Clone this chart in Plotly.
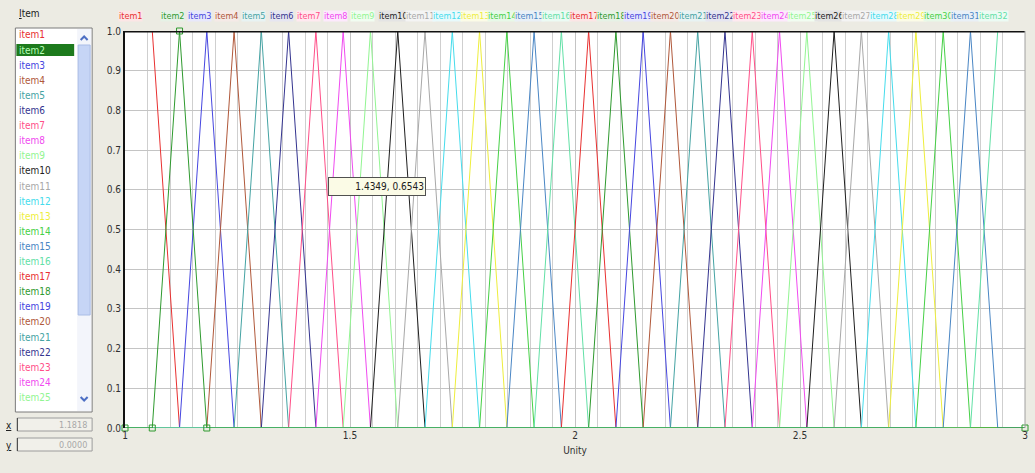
import plotly.graph_objects as go

# ---------------- data ----------------
knots = [1.0000, 1.0606, 1.1212, 1.1818, 1.2424, 1.3030, 1.3636, 1.4242, 1.4848,
         1.5455, 1.6061, 1.6667, 1.7273, 1.7879, 1.8485, 1.9091, 1.9697, 2.0303,
         2.0909, 2.1515, 2.2121, 2.2727, 2.3333, 2.3939, 2.4545, 2.5152, 2.5758,
         2.6364, 2.6970, 2.7576, 2.8182, 2.8788, 2.9394, 3.0000]
items = ["item%d" % i for i in range(1, 33)]
palette = ["#e83030", "#2f9a2f", "#4646e0", "#b0583a", "#45a3a3", "#34348f",
           "#ff4f88", "#f04af0", "#92f592", "#1e1e1e", "#a8a8a8", "#45dcec",
           "#eeee3c", "#46d046", "#4a86c4", "#62e0a6"]
item_colors = palette * 2
selected = "item2"
y_ticks = [0.0, 0.1, 0.2, 0.3, 0.4, 0.5, 0.6, 0.7, 0.8, 0.9, 1.0]
y_tick_text = ["0.0", "0.1", "0.2", "0.3", "0.4", "0.5", "0.6", "0.7", "0.8", "0.9", "1.0"]
x_ticks = [1, 1.5, 2, 2.5, 3]
x_tick_text = ["1", "1.5", "2", "2.5", "3"]
cursor_x, cursor_y = 1.4349, 0.6543
x_box_value = "1.1818"
y_box_value = "0.0000"
visible_list = items[:26]

FONT = "Liberation Sans Narrow, DejaVu Sans Condensed, Arial Narrow, sans-serif"
BG = "#ecebe3"


def px(x):
    return (x - 125) / 903.0


def py(y):
    return (428 - y) / 397.0


def tint(hexc, f=0.85):
    r, g, b = int(hexc[1:3], 16), int(hexc[3:5], 16), int(hexc[5:7], 16)
    r = int(r + (255 - r) * f); g = int(g + (255 - g) * f); b = int(b + (255 - b) * f)
    return "#%02x%02x%02x" % (r, g, b)


def membership(k):
    n = len(items)
    if k == 1:
        return [knots[0], knots[1], knots[2], knots[-1]], [1, 1, 0, 0]
    if k == n:
        return [knots[0], knots[n - 1], knots[n], knots[-1]], [0, 0, 1, 1]
    return [knots[0], knots[k - 1], knots[k], knots[k + 1], knots[-1]], [0, 0, 1, 0, 0]


fig = go.Figure()
order = [i for i in range(len(items)) if items[i] != selected] + [items.index(selected)]
for i in order:
    xs, ys = membership(i + 1)
    sel = items[i] == selected
    fig.add_trace(go.Scatter(
        x=xs, y=ys, mode="lines+markers" if sel else "lines",
        line=dict(color=item_colors[i], width=1),
        marker=dict(symbol="square-open", size=6, color=item_colors[i], line=dict(width=1)),
        cliponaxis=False,
        name=items[i], hoverinfo="skip", showlegend=False))

annotations = []
# labels on top of the plot
for i, name in enumerate(items):
    k = i + 1
    if k == 1:
        ax, sh = knots[0], -7
    else:
        ax, sh = knots[k], -20
    annotations.append(dict(x=ax, xref="x", y=py(16), yref="paper", xanchor="left",
                            yanchor="middle", xshift=sh, text=name, showarrow=False,
                            font=dict(family=FONT, size=9, color=item_colors[i]),
                            bgcolor=tint(item_colors[i], 0.88), borderpad=0))

# tooltip
annotations.append(dict(x=cursor_x, y=cursor_y, xref="x", yref="y", xanchor="left",
                        yanchor="top", xshift=7, yshift=-9,
                        text="%.4f, %.4f" % (cursor_x, cursor_y), showarrow=False,
                        align="right", width=94, height=15,
                        font=dict(family=FONT, size=10, color="#202020"),
                        bgcolor="#fbfbe6", bordercolor="#505050", borderwidth=1, borderpad=1))

shapes = []
# plot frame extras
shapes.append(dict(type="line", xref="x", yref="y", x0=1, x1=3, y0=1, y1=1,
                   line=dict(color="#111111", width=3), layer="above"))
shapes.append(dict(type="line", xref="paper", yref="paper", x0=1, x1=1, y0=0, y1=1,
                   line=dict(color="#a0a0a0", width=1)))

# left panel
shapes.append(dict(type="rect", xref="paper", yref="paper", x0=px(15), x1=px(92),
                   y0=py(412), y1=py(28), fillcolor="white",
                   line=dict(color="#7a7a7a", width=1), layer="below"))
shapes.append(dict(type="rect", xref="paper", yref="paper", x0=px(77), x1=px(91),
                   y0=py(411), y1=py(29), fillcolor="#f3f5fb",
                   line=dict(width=0), layer="below"))
shapes.append(dict(type="rect", xref="paper", yref="paper", x0=px(78), x1=px(90),
                   y0=py(315), y1=py(45), fillcolor="#c6d5f6",
                   line=dict(color="#aabde6", width=1), layer="below"))
# scroll arrows
shapes.append(dict(type="path", xref="paper", yref="paper",
                   path="M %f %f L %f %f L %f %f" % (px(80.5), py(40), px(84), py(36.5), px(87.5), py(40)),
                   line=dict(color="#4d6fc4", width=2)))
shapes.append(dict(type="path", xref="paper", yref="paper",
                   path="M %f %f L %f %f L %f %f" % (px(80.5), py(397), px(84), py(400.5), px(87.5), py(397)),
                   line=dict(color="#4d6fc4", width=2)))
# selected highlight
sel_idx = items.index(selected)
row_y = [35 + 15.1 * j for j in range(len(visible_list))]
shapes.append(dict(type="rect", xref="paper", yref="paper", x0=px(16), x1=px(74),
                   y0=py(row_y[sel_idx] + 6), y1=py(row_y[sel_idx] - 6),
                   fillcolor="#1d7a1d", line=dict(width=0), layer="below"))
# x / y boxes
for yy in (418, 438):
    shapes.append(dict(type="rect", xref="paper", yref="paper", x0=px(17), x1=px(92),
                       y0=py(yy + 13), y1=py(yy), fillcolor="#f1f0ea",
                       line=dict(color="#9c9c9c", width=1), layer="below"))
    shapes.append(dict(type="line", xref="paper", yref="paper", x0=px(17), x1=px(17),
                       y0=py(yy + 13), y1=py(yy), line=dict(color="#404040", width=1)))

annotations.append(dict(x=px(17), y=py(14), xref="paper", yref="paper", xanchor="left",
                        yanchor="middle", text="<u>I</u>tem", showarrow=False,
                        font=dict(family=FONT, size=10, color="#202020")))
for j, name in enumerate(visible_list):
    if row_y[j] > 410:
        continue
    c = "#b8ffb8" if name == selected else item_colors[j]
    annotations.append(dict(x=px(17), y=py(row_y[j]), xref="paper", yref="paper",
                            xanchor="left", yanchor="middle", text=name, showarrow=False,
                            font=dict(family=FONT, size=10, color=c)))
annotations.append(dict(x=px(4), y=py(425), xref="paper", yref="paper", xanchor="left",
                        yanchor="middle", text="<u>x</u>", showarrow=False,
                        font=dict(family=FONT, size=10, color="#202020")))
annotations.append(dict(x=px(4), y=py(445), xref="paper", yref="paper", xanchor="left",
                        yanchor="middle", text="<u>y</u>", showarrow=False,
                        font=dict(family=FONT, size=10, color="#202020")))
annotations.append(dict(x=px(89), y=py(424.5), xref="paper", yref="paper", xanchor="right",
                        yanchor="middle", text=x_box_value, showarrow=False,
                        font=dict(family=FONT, size=9, color="#a8a8a8")))
annotations.append(dict(x=px(89), y=py(444.5), xref="paper", yref="paper", xanchor="right",
                        yanchor="middle", text=y_box_value, showarrow=False,
                        font=dict(family=FONT, size=9, color="#a8a8a8")))

fig.update_layout(
    width=1035, height=473,
    margin=dict(l=125, r=7, t=31, b=45),
    paper_bgcolor=BG, plot_bgcolor="white",
    font=dict(family=FONT, size=10, color="#303030"),
    shapes=shapes, annotations=annotations,
    xaxis=dict(range=[1, 3], tickvals=x_ticks, ticktext=x_tick_text,
               showgrid=True, gridcolor="#c4c4c4", gridwidth=1,
               minor=dict(dtick=0.05, showgrid=True, gridcolor="#cfcfcf", gridwidth=1),
               zeroline=False, showline=False, ticks="",
               title=dict(text="Unity", font=dict(size=10, family=FONT), standoff=6),
               tickfont=dict(size=10, family=FONT, color="#303030")),
    yaxis=dict(range=[0, 1], tickvals=y_ticks, ticktext=y_tick_text,
               showgrid=True, gridcolor="#c4c4c4", gridwidth=1, zeroline=False,
               showline=True, linecolor="#111111", linewidth=2, ticks="",
               tickfont=dict(size=10, family=FONT, color="#303030")),
    hovermode=False,
)

fig.write_html("out.html")
